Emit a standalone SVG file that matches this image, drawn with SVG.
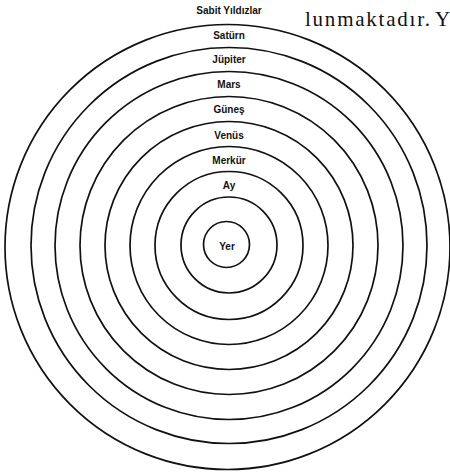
<svg xmlns="http://www.w3.org/2000/svg" width="450" height="473" viewBox="0 0 450 473">
<style>
.ring{fill:none;stroke:#111;stroke-width:1.7}
.lbl{font-family:"Liberation Sans",Arial,sans-serif;font-weight:bold;font-size:10px;fill:#111;text-anchor:middle}
.book{font-family:"Liberation Serif","Times New Roman",serif;font-size:21px;fill:#111}
</style>
<rect width="450" height="473" fill="#fff"/>
<g id="connectors"></g>
<g id="sabit-yildizlar">
<circle class="ring" cx="227.5" cy="247" r="222.5"/>
<text class="lbl" x="229" y="14">Sabit Yıldızlar</text>
</g>
<g id="saturn">
<circle class="ring" cx="229" cy="245.5" r="198"/>
<text class="lbl" x="229" y="39">Satürn</text>
</g>
<g id="jupiter">
<circle class="ring" cx="229" cy="245.5" r="174"/>
<text class="lbl" x="229" y="63">Jüpiter</text>
</g>
<g id="mars">
<circle class="ring" cx="229" cy="245.5" r="149"/>
<text class="lbl" x="229" y="88">Mars</text>
</g>
<g id="gunes">
<circle class="ring" cx="229" cy="245.5" r="124"/>
<text class="lbl" x="229" y="112.5">Güneş</text>
</g>
<g id="venus">
<circle class="ring" cx="229" cy="245.5" r="99"/>
<text class="lbl" x="229" y="138.5">Venüs</text>
</g>
<g id="merkur">
<circle class="ring" cx="229" cy="245.5" r="74"/>
<text class="lbl" x="229" y="164">Merkür</text>
</g>
<g id="ay">
<circle class="ring" cx="229" cy="245" r="48"/>
<text class="lbl" x="229" y="188.5">Ay</text>
</g>
<g id="yer">
<circle class="ring" cx="226.5" cy="244.5" r="23"/>
<text class="lbl" x="227" y="249.5">Yer</text>
</g>
<text class="book" y="26"><tspan x="305" textLength="125" lengthAdjust="spacing">lunmaktadır.</tspan><tspan x="435">Y</tspan></text>
</svg>
